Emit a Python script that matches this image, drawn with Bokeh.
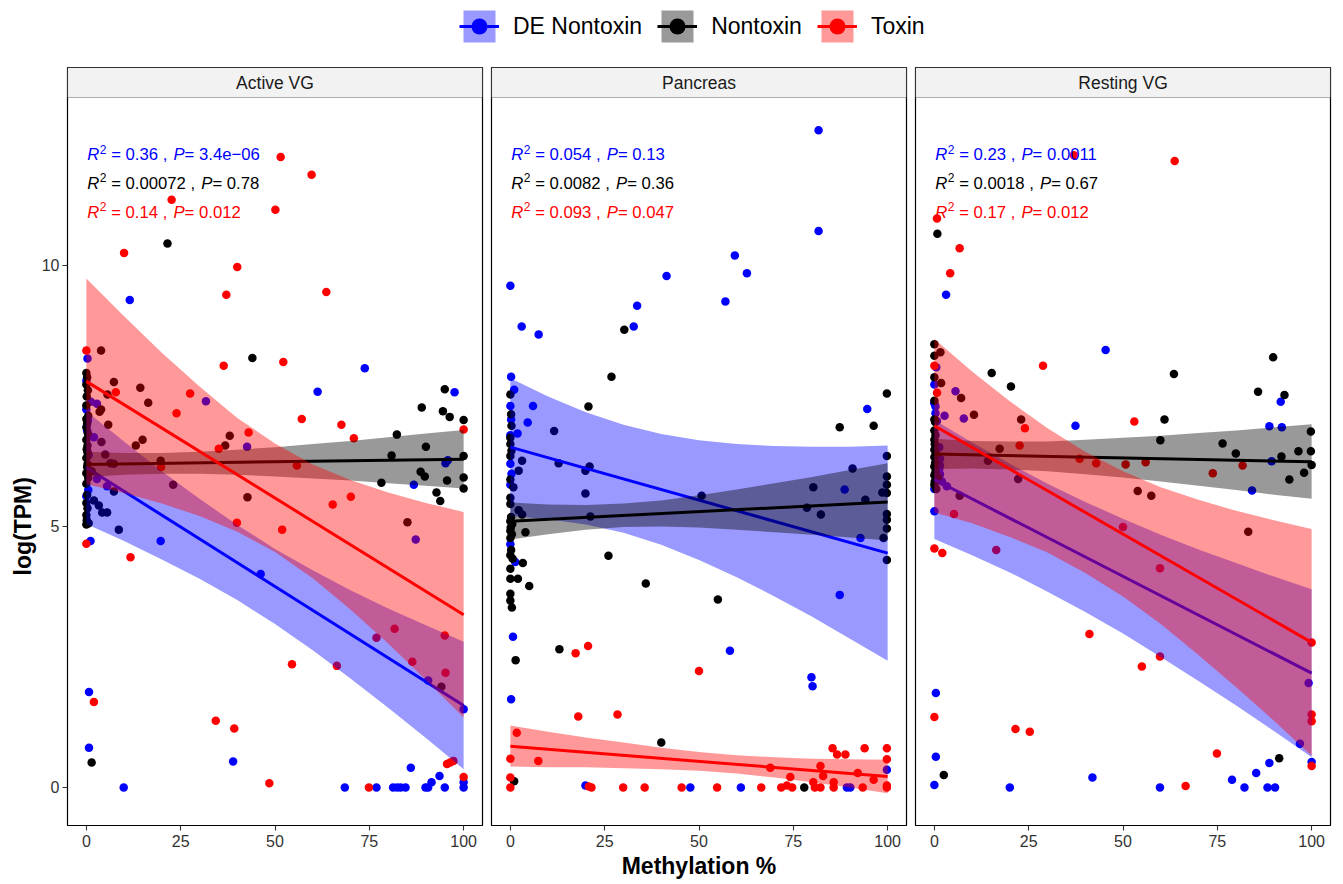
from bokeh.plotting import figure
from bokeh.layouts import row, column
from bokeh.models import Range1d, FixedTicker, BoxAnnotation, Legend, LegendItem, Label, Title
from bokeh.embed import file_html
from bokeh.resources import INLINE
from bokeh.core.properties import value

FONT = "Liberation Sans"
GROUPS = ["DE Nontoxin", "Nontoxin", "Toxin"]
COLORS = {"DE Nontoxin": "#0000FF", "Nontoxin": "#000000", "Toxin": "#FF0000"}
PANELS = ["Active VG", "Pancreas", "Resting VG"]
X_TICKS = [0, 25, 50, 75, 100]
Y_TICKS = [0, 5, 10]
X_TITLE = "Methylation %"
Y_TITLE = "log(TPM)"

# ---------------- points (Methylation %, log(TPM)) ----------------
AVG_DE = [(0.3,8.22),(0.0,7.79),(1.2,7.39),(2.8,7.35),(0.0,7.24),(0.4,7.03),(0.2,6.84),(2.0,6.71),(0.6,6.37),(2.8,5.91),(5.5,5.77),(0.5,5.70),(0.0,5.58),(1.1,4.72),(0.7,1.83),(0.7,0.76),(11.5,9.34),(31.7,7.40),(42.6,6.53),(19.7,4.72),(46.2,4.09),(38.9,0.50),(9.9,0.0),(73.8,8.03),(61.3,7.58),(97.6,7.57),(95.8,6.27),(95.2,6.21),(86.8,5.80),(87.3,4.75),(90.6,2.05),(100,1.50),(86.0,0.38),(93.6,0.22),(91.5,0.10),(100,0.10),(68.5,0),(76.9,0),(81.3,0),(82.4,0),(83.3,0),(84.6,0),(89.9,0),(90.6,0),(95.0,0),(100,0)]
AVG_NT = [(21.5,10.42),(44.0,8.23),(3.9,8.37),(0.0,7.94),(7.3,7.77),(5.6,7.53),(14.3,7.66),(16.4,7.37),(38.0,6.74),(36.8,6.55),(3.5,7.20),(3.9,7.24),(5.8,6.95),(14.9,6.66),(13.1,6.55),(19.7,6.26),(4.0,6.62),(5.0,6.38),(0.3,6.55),(0.3,6.19),(7.3,6.20),(6.4,6.21),(1.4,6.06),(23.0,5.80),(7.3,5.67),(2.0,5.50),(3.3,5.40),(4.2,5.27),(5.5,5.27),(0.0,5.04),(8.6,4.94),(42.7,5.56),(1.4,0.48),(95.0,7.63),(88.9,7.28),(94.5,7.21),(96.3,7.10),(100,7.04),(82.3,6.76),(90.0,6.53),(80.9,6.36),(100,6.35),(78.2,5.84),(88.6,6.05),(89.7,5.96),(95.6,5.88),(100,5.94),(100,5.73),(92.8,5.65),(93.8,5.49),(85.1,5.08),(94.1,1.93),(0.2,7.86),(0.0,7.72),(0.4,7.61),(0.1,7.49),(0.0,7.32),(0.5,7.12),(0.0,7.06),(0.2,6.97),(0.0,6.90),(0.4,6.78),(0.0,6.66),(0.1,6.48),(0.3,6.42),(0.0,6.31),(0.2,6.14),(0.0,6.02),(0.5,5.93),(0.0,5.82),(0.2,5.61),(0.0,5.45),(0.3,5.35),(0.0,5.22),(0.1,5.12),(0.6,5.06)]
AVG_TX = [(51.5,12.08),(59.7,11.74),(50.1,11.07),(22.6,11.26),(10.0,10.24),(40.0,9.97),(37.1,9.44),(63.6,9.49),(52.2,8.15),(36.4,8.08),(0.0,8.37),(7.8,7.57),(27.5,7.55),(23.9,7.17),(35.1,6.49),(43.0,6.80),(57.1,7.06),(67.6,6.95),(70.9,6.69),(100,6.86),(55.8,6.17),(19.8,6.14),(65.3,5.42),(70.1,5.57),(51.9,4.94),(39.9,5.07),(0.0,4.67),(11.7,4.41),(54.5,2.36),(66.4,2.33),(76.9,2.87),(81.7,3.04),(95.0,2.91),(86.4,2.41),(95.2,2.20),(2.0,1.64),(34.3,1.28),(39.2,1.13),(48.5,0.08),(74.9,0.0),(95.6,0.45),(96.4,0.48),(97.3,0.51),(100,0.20)]

PAN_DE = [(81.7,12.59),(81.7,10.66),(59.5,10.19),(62.7,9.85),(41.4,9.80),(33.6,9.23),(57.0,9.31),(0.0,9.61),(3.0,8.83),(7.5,8.68),(32.7,8.83),(0.2,7.87),(1.0,7.62),(0.0,7.31),(6.0,7.31),(0.2,7.05),(4.6,6.99),(1.9,6.78),(0.0,6.75),(94.6,7.25),(0.0,6.20),(0.3,6.01),(0.0,5.80),(88.6,5.71),(92.8,4.78),(0.0,4.66),(1.3,4.32),(87.3,3.69),(0.7,2.89),(58.2,2.62),(79.8,2.11),(80.1,1.94),(0.2,1.69),(19.9,0.04),(47.7,0),(61.1,0),(89.2,0),(90.1,0),(99.8,0.34)]
PAN_NT = [(30.2,8.77),(26.8,7.87),(20.7,7.30),(0.0,7.53),(99.8,7.55),(87.3,6.90),(96.3,6.93),(99.8,6.35),(11.6,6.83),(0.0,6.70),(0.3,6.93),(0.0,6.58),(3.1,6.26),(2.2,6.07),(12.8,6.21),(19.9,6.07),(21.0,6.15),(0.0,5.90),(0.8,5.75),(19.9,5.63),(0.0,5.43),(2.2,5.31),(3.1,5.23),(21.2,5.19),(50.7,5.59),(80.3,5.75),(90.7,6.11),(94.1,5.51),(78.6,5.36),(82.3,5.23),(98.9,4.78),(99.8,5.96),(99.8,5.80),(99.8,5.64),(99.8,5.24),(99.8,5.13),(99.8,4.96),(99.8,4.36),(98.6,5.65),(4.0,4.89),(26.0,4.44),(3.3,4.30),(0.0,4.19),(0.0,4.00),(2.0,4.00),(5.0,3.86),(0.0,3.71),(0.0,3.58),(0.4,3.45),(35.9,3.91),(55.0,3.60),(1.4,2.44),(13.0,2.65),(40.0,0.86),(1.0,0.12),(77.9,0.0),(0.2,5.18),(0.0,5.10),(0.5,5.05),(0.1,4.98),(0.0,4.92),(0.4,4.85),(0.0,4.78),(0.2,4.55),(0.0,4.45),(0.6,4.38),(0.0,5.55),(0.3,6.45),(0.0,6.35),(0.2,7.15)]
PAN_TX = [(17.3,2.57),(20.6,2.71),(50.0,2.23),(18.0,1.36),(28.4,1.40),(1.7,1.05),(0.0,0.55),(7.4,0.51),(0.0,0.19),(0.0,0.0),(20.8,0.02),(21.5,0.0),(29.9,0.0),(35.6,0.0),(45.4,0.0),(54.8,0.0),(66.5,0.0),(71.8,0.0),(73.3,0.04),(74.7,0.0),(80.3,0.10),(80.7,0.0),(82.2,0.0),(85.7,0.10),(85.7,0.0),(93.4,0.0),(99.8,0.0),(68.9,0.38),(74.2,0.20),(82.2,0.41),(82.9,0.22),(85.4,0.75),(86.6,0.63),(88.8,0.63),(93.9,0.75),(92.1,0.28),(96.3,0.15),(99.8,0.75),(99.8,0.54),(99.8,0.04)]

RVG_DE = [(3.1,9.44),(45.4,8.38),(91.8,7.39),(37.4,6.93),(88.8,6.92),(92.1,6.90),(89.4,6.25),(84.2,5.69),(0.5,8.05),(5.6,7.59),(7.8,7.07),(2.7,7.12),(0.0,7.72),(0.0,7.36),(0.3,7.30),(0.3,7.17),(0.7,7.02),(1.3,6.52),(1.5,6.30),(1.3,6.10),(1.5,6.17),(1.5,6.00),(2.0,5.86),(0.0,5.72),(3.3,5.77),(0.0,5.29),(99.2,2.00),(96.9,0.84),(0.4,1.81),(0.4,0.59),(0.0,0.05),(20.0,0.0),(41.9,0.19),(59.8,0.0),(78.9,0.15),(82.2,0.0),(85.3,0.28),(88.8,0.47),(88.3,0.0),(90.3,0.0),(100,0.49)]
RVG_NT = [(0.8,10.61),(89.8,8.24),(0.0,8.49),(1.6,8.34),(0.0,8.27),(15.2,7.94),(20.3,7.68),(63.5,7.92),(85.8,7.58),(92.8,7.52),(61.0,7.05),(59.9,6.65),(76.4,6.59),(79.9,6.40),(99.8,6.82),(96.5,6.44),(99.8,6.44),(92.0,6.34),(23.0,7.05),(10.5,7.14),(7.1,7.46),(17.3,6.49),(14.2,6.26),(94.1,5.90),(98.0,6.03),(100,6.18),(53.9,5.68),(57.5,5.59),(22.2,5.91),(6.7,5.59),(0.5,5.72),(83.2,4.90),(2.5,0.24),(91.4,0.56),(1.8,7.75),(0.0,7.86),(0.0,7.41),(0.0,7.05),(0.2,7.00),(1.0,5.95),(0.0,6.84),(0.3,6.75),(0.0,6.66),(0.1,6.58),(0.0,6.47),(0.4,6.40),(0.0,6.33),(0.2,6.22),(0.0,6.15),(0.3,6.05),(0.0,5.98),(0.1,5.86),(0.0,5.80)]
RVG_TX = [(37.0,12.11),(63.7,12.0),(0.7,10.90),(6.7,10.33),(4.2,9.85),(0.0,8.08),(28.8,8.08),(53.0,7.01),(24.0,6.88),(0.7,7.56),(22.6,6.55),(38.5,6.30),(42.9,6.21),(50.7,6.19),(56.0,6.23),(73.8,6.02),(81.7,6.17),(5.2,5.24),(50.0,4.99),(0.0,4.58),(2.1,4.49),(16.4,4.55),(59.8,4.20),(41.1,2.94),(55.0,2.32),(59.8,2.51),(100,2.78),(100,1.40),(100,1.27),(0.0,1.35),(21.5,1.12),(25.3,1.07),(66.6,0.03),(74.9,0.65),(100,0.41)]

# ---------------- fitted lines (value at 0 and 100) and confidence bands ----------------
FIT_X = [0, 100]
BAND_X = [0, 10, 20, 30, 40, 50, 60, 70, 80, 90, 100]

AVG_DE_FIT = [6.13, 1.57]
AVG_DE_LO = [5.05, 4.72, 4.37, 4.00, 3.59, 3.13, 2.63, 2.09, 1.53, 0.95, 0.35]
AVG_DE_HI = [7.21, 6.63, 6.06, 5.53, 5.03, 4.57, 4.16, 3.78, 3.43, 3.11, 2.79]
AVG_NT_FIT = [6.19, 6.29]
AVG_NT_LO = [5.95, 5.99, 6.01, 6.01, 5.99, 5.96, 5.92, 5.88, 5.83, 5.78, 5.73]
AVG_NT_HI = [6.43, 6.41, 6.41, 6.43, 6.47, 6.52, 6.58, 6.64, 6.71, 6.78, 6.85]
AVG_TX_FIT = [7.78, 3.31]
AVG_TX_LO = [5.81, 5.64, 5.44, 5.20, 4.90, 4.51, 4.01, 3.41, 2.76, 2.06, 1.34]
AVG_TX_HI = [9.75, 9.03, 8.33, 7.68, 7.08, 6.59, 6.19, 5.89, 5.65, 5.45, 5.28]

PAN_DE_FIT = [6.52, 4.49]
PAN_DE_LO = [5.20, 5.14, 5.04, 4.88, 4.65, 4.36, 4.03, 3.66, 3.27, 2.85, 2.43]
PAN_DE_HI = [7.84, 7.49, 7.19, 6.95, 6.77, 6.65, 6.58, 6.54, 6.53, 6.53, 6.55]
PAN_NT_FIT = [5.10, 5.47]
PAN_NT_LO = [4.75, 4.85, 4.94, 4.99, 5.00, 4.98, 4.94, 4.89, 4.84, 4.79, 4.73]
PAN_NT_HI = [5.46, 5.42, 5.41, 5.44, 5.50, 5.60, 5.71, 5.83, 5.95, 6.08, 6.21]
PAN_TX_FIT = [0.79, 0.21]
PAN_TX_LO = [0.40, 0.39, 0.39, 0.37, 0.35, 0.32, 0.27, 0.19, 0.10, 0.00, -0.11]
PAN_TX_HI = [1.19, 1.07, 0.96, 0.86, 0.76, 0.68, 0.62, 0.58, 0.55, 0.54, 0.53]

RVG_DE_FIT = [5.90, 2.19]
RVG_DE_LO = [4.76, 4.45, 4.12, 3.75, 3.36, 2.95, 2.50, 2.04, 1.57, 1.08, 0.58]
RVG_DE_HI = [7.04, 6.61, 6.20, 5.82, 5.47, 5.15, 4.84, 4.56, 4.30, 4.04, 3.80]
RVG_NT_FIT = [6.39, 6.24]
RVG_NT_LO = [6.10, 6.11, 6.09, 6.06, 6.00, 5.94, 5.86, 5.78, 5.70, 5.61, 5.53]
RVG_NT_HI = [6.68, 6.64, 6.63, 6.63, 6.66, 6.70, 6.74, 6.79, 6.84, 6.90, 6.96]
RVG_TX_FIT = [6.93, 2.78]
RVG_TX_LO = [5.27, 5.06, 4.80, 4.50, 4.11, 3.66, 3.13, 2.54, 1.92, 1.28, 0.61]
RVG_TX_HI = [8.59, 7.97, 7.40, 6.88, 6.43, 6.06, 5.75, 5.51, 5.30, 5.12, 4.95]

# ---------------- regression statistics ----------------
AVG_R2 = ["0.36", "0.00072", "0.14"]
AVG_P = ["3.4e\u221206", "0.78", "0.012"]
PAN_R2 = ["0.054", "0.0082", "0.093"]
PAN_P = ["0.13", "0.36", "0.047"]
RVG_R2 = ["0.23", "0.0018", "0.17"]
RVG_P = ["0.0011", "0.67", "0.012"]

PANEL_DATA = [
    {"DE Nontoxin": (AVG_DE, AVG_DE_FIT, AVG_DE_LO, AVG_DE_HI),
     "Nontoxin": (AVG_NT, AVG_NT_FIT, AVG_NT_LO, AVG_NT_HI),
     "Toxin": (AVG_TX, AVG_TX_FIT, AVG_TX_LO, AVG_TX_HI)},
    {"DE Nontoxin": (PAN_DE, PAN_DE_FIT, PAN_DE_LO, PAN_DE_HI),
     "Nontoxin": (PAN_NT, PAN_NT_FIT, PAN_NT_LO, PAN_NT_HI),
     "Toxin": (PAN_TX, PAN_TX_FIT, PAN_TX_LO, PAN_TX_HI)},
    {"DE Nontoxin": (RVG_DE, RVG_DE_FIT, RVG_DE_LO, RVG_DE_HI),
     "Nontoxin": (RVG_NT, RVG_NT_FIT, RVG_NT_LO, RVG_NT_HI),
     "Toxin": (RVG_TX, RVG_TX_FIT, RVG_TX_LO, RVG_TX_HI)},
]
PANEL_STATS = [(AVG_R2, AVG_P), (PAN_R2, PAN_P), (RVG_R2, RVG_P)]

# ---------------- layout constants ----------------
Y_LO, Y_PANEL_TOP, Y_HI = -0.728, 13.218, 13.793
FRAME_W = 415
FIG_H = 827
BORDERS = [(67, 4), (5, 4), (5, 13)]
STAT_Y = [12.12, 11.57, 11.015]
STAT_FS = 16.7
SUP_FS = 12.0
WID = {" ": 0.278, "=": 0.584, ".": 0.278, ",": 0.278, "e": 0.556,
       "\u2212": 0.584, "R": 0.722, "P": 0.667}


def tw(s, size):
    return sum(WID.get(ch, 0.556) for ch in s) * size


def add_stats(p, r2s, ps):
    for k, g in enumerate(GROUPS):
        c = COLORS[g]
        y = STAT_Y[k]
        pieces = []
        x = 1.0
        pieces.append(("R", x, 0, STAT_FS, "italic"))
        x += tw("R", STAT_FS) + 0.4
        pieces.append(("2", x, -5.6, SUP_FS, "normal"))
        x += tw("2", SUP_FS) + tw(" ", STAT_FS)
        mid = "= " + r2s[k] + " ,"
        pieces.append((mid, x, 0, STAT_FS, "normal"))
        x += tw(mid, STAT_FS) + tw(" ", STAT_FS) + 1.5
        pieces.append(("P", x, 0, STAT_FS, "italic"))
        x += tw("P", STAT_FS)
        pieces.append(("= " + ps[k], x, 0, STAT_FS, "normal"))
        for (t, xo, yo, fs, st) in pieces:
            p.text(x=[0], y=[y], text=[t], x_offset=xo, y_offset=yo,
                   text_font=value(FONT), text_font_size=f"{fs}px",
                   text_font_style=st, text_color=c,
                   text_align="left", text_baseline="alphabetic")


def make_panel(i):
    left, right = BORDERS[i]
    p = figure(width=left + FRAME_W + right, height=FIG_H,
               x_range=Range1d(-5, 105), y_range=Range1d(Y_LO, Y_HI),
               output_backend="svg", toolbar_location=None,
               min_border_left=left, min_border_right=right,
               min_border_top=10, min_border_bottom=59,
               y_axis_location="left" if i == 0 else None)
    p.xgrid.visible = False
    p.ygrid.visible = False
    p.background_fill_color = "white"
    p.border_fill_color = "white"
    p.outline_line_color = "black"
    p.outline_line_width = 1.2

    data = PANEL_DATA[i]
    # points first
    for g in GROUPS:
        pts = data[g][0]
        p.scatter(x=[a for a, b in pts], y=[b for a, b in pts], size=8.5,
                  fill_color=COLORS[g], line_color=None)
    # smooth: ribbon then line, per group
    for g in GROUPS:
        _, fit, lo, hi = data[g]
        p.varea(x=BAND_X, y1=lo, y2=hi, fill_color=COLORS[g], fill_alpha=0.4)
        p.line(x=FIT_X, y=fit, line_color=COLORS[g], line_width=3)

    add_stats(p, *PANEL_STATS[i])

    # strip
    p.add_layout(BoxAnnotation(bottom=Y_PANEL_TOP, fill_color="#F2F2F2", fill_alpha=1.0,
                               line_color="black", line_width=1.2))
    p.add_layout(Label(x=50, y=(Y_PANEL_TOP + Y_HI) / 2, text=PANELS[i],
                       text_align="center", text_baseline="middle",
                       text_font=FONT, text_font_size="17.5px", text_color="#1A1A1A"))

    ax = p.xaxis[0]
    ax.ticker = FixedTicker(ticks=X_TICKS)
    ax.axis_line_color = None
    ax.major_tick_in = 0
    ax.major_tick_out = 5
    ax.minor_tick_line_color = None
    ax.major_tick_line_color = "#333333"
    ax.major_tick_line_width = 1.1
    ax.major_label_text_font = FONT
    ax.major_label_text_font_size = "16px"
    ax.major_label_text_color = "#333333"
    ax.major_label_standoff = 4
    if i == 1:
        ax.axis_label = X_TITLE
        ax.axis_label_text_font = FONT
        ax.axis_label_text_font_size = "23px"
        ax.axis_label_text_font_style = "bold"
        ax.axis_label_text_color = "black"
        ax.axis_label_standoff = 3
    if i == 0:
        ay = p.yaxis[0]
        ay.ticker = FixedTicker(ticks=Y_TICKS)
        ay.axis_line_color = None
        ay.major_tick_in = 0
        ay.major_tick_out = 5
        ay.minor_tick_line_color = None
        ay.major_tick_line_color = "#333333"
        ay.major_tick_line_width = 1.1
        ay.major_label_text_font = FONT
        ay.major_label_text_font_size = "16px"
        ay.major_label_text_color = "#333333"
        ay.major_label_standoff = 3
        p.add_layout(Title(text=Y_TITLE, align="left", offset=250, standoff=6,
                           text_font=FONT, text_font_size="23px", text_font_style="bold",
                           text_color="black"), "left")
    return p


panels = [make_panel(i) for i in range(3)]

# legend strip (key glyphs are kept outside the visible range)
lg = figure(width=1343, height=57, x_range=Range1d(0, 1), y_range=Range1d(0, 1),
            output_backend="svg", toolbar_location=None, min_border=0,
            x_axis_location=None, y_axis_location=None)
lg.outline_line_color = None
lg.xgrid.visible = False
lg.ygrid.visible = False
items = []
for g in GROUPS:
    rb = lg.varea(x=[5, 6], y1=[5, 5], y2=[6, 6], fill_color=COLORS[g], fill_alpha=0.4)
    rl = lg.line(x=[5, 6], y=[5, 5], line_color=COLORS[g], line_width=3)
    rp = lg.scatter(x=[5], y=[5], size=8.5, fill_color=COLORS[g], line_color=None)
    items.append(LegendItem(label=g, renderers=[rb, rl, rp]))
legend = Legend(items=items, orientation="horizontal", location=(459, 11),
                glyph_width=40, glyph_height=40, label_standoff=14, spacing=15,
                padding=0, margin=0, border_line_color=None, background_fill_alpha=0,
                label_text_font=FONT, label_text_font_size="23px", label_text_color="black")
lg.add_layout(legend)

layout = column(lg, row(*panels, spacing=0), spacing=0)
open("out.html", "w").write(file_html(layout, INLINE))
